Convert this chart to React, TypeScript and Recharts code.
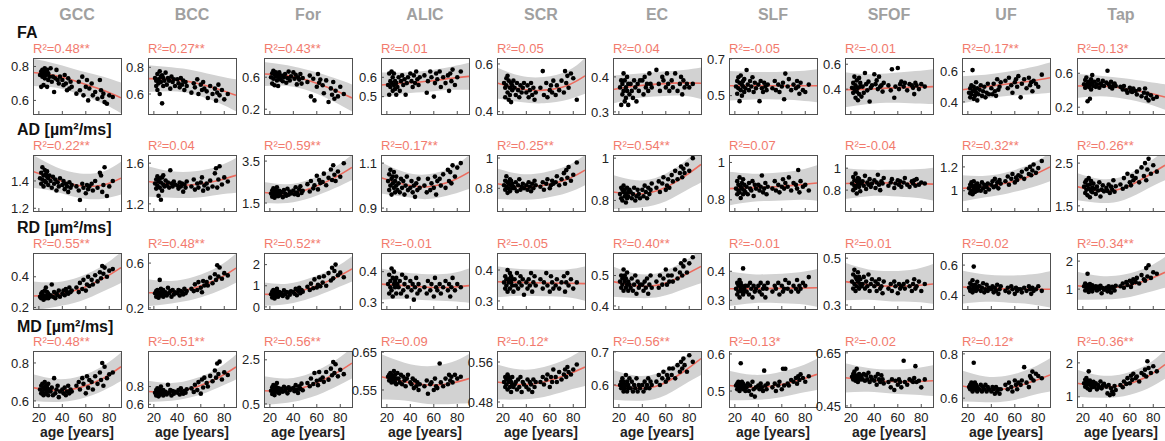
import React from 'react';
import { ComposedChart, XAxis, YAxis, Scatter, Line, Area } from 'recharts';

const TRACTS = ['GCC', 'BCC', 'For', 'ALIC', 'SCR', 'EC', 'SLF', 'SFOF', 'UF', 'Tap'];
const METRIC_LABELS = ['FA', 'AD [µm²/ms]', 'RD [µm²/ms]', 'MD [µm²/ms]'];
const AGE_TICKS = [20, 40, 60, 80];
const FIT_AGES = [15, 35, 55, 75, 90];

// subject ages (shared by all panels)
const AGES = [21, 22, 22, 23, 23, 24, 24, 25, 25, 26, 26, 27, 27, 28, 28, 29,
  30, 31, 32, 33, 34, 35, 36, 37, 38,
  40, 41, 42, 43, 44, 45, 46, 47, 48,
  52, 54, 55, 57, 58, 60, 61, 62, 63,
  65, 66, 68, 70, 72, 73, 74, 75, 76, 78, 80, 83];

// ---------- FA ----------
const FA_GCC = [0.75, 0.77, 0.68, 0.78, 0.74, 0.76, 0.69, 0.79, 0.73, 0.77, 0.75, 0.68, 0.78, 0.76, 0.72, 0.74,
  0.79, 0.71, 0.74, 0.65, 0.73, 0.78, 0.72, 0.70, 0.74,
  0.72, 0.69, 0.75, 0.70, 0.66, 0.73, 0.67, 0.71, 0.68,
  0.64, 0.71, 0.66, 0.74, 0.63, 0.68, 0.72, 0.60, 0.67,
  0.70, 0.63, 0.65, 0.61, 0.72, 0.66, 0.62, 0.64, 0.59, 0.58, 0.63, 0.62];
const FA_BCC = [0.72, 0.70, 0.66, 0.75, 0.63, 0.71, 0.68, 0.77, 0.60, 0.73, 0.69, 0.53, 0.74, 0.66, 0.72, 0.70,
  0.76, 0.67, 0.72, 0.70, 0.64, 0.73, 0.69, 0.71, 0.66,
  0.71, 0.68, 0.65, 0.72, 0.67, 0.70, 0.63, 0.69, 0.66,
  0.61, 0.68, 0.65, 0.71, 0.60, 0.67, 0.63, 0.69, 0.64,
  0.62, 0.57, 0.66, 0.60, 0.64, 0.55, 0.61, 0.67, 0.59, 0.63, 0.56, 0.60];
const FA_FOR = [0.60, 0.65, 0.52, 0.68, 0.58, 0.63, 0.50, 0.66, 0.61, 0.56, 0.64, 0.49, 0.62, 0.59, 0.66, 0.57,
  0.62, 0.55, 0.60, 0.64, 0.53, 0.59, 0.67, 0.56, 0.61,
  0.66, 0.58, 0.63, 0.51, 0.60, 0.57, 0.64, 0.52, 0.59,
  0.54, 0.62, 0.36, 0.58, 0.31, 0.48, 0.64, 0.53, 0.57,
  0.50, 0.40, 0.56, 0.29, 0.46, 0.38, 0.54, 0.33, 0.43, 0.36, 0.48, 0.39];
const FA_ALIC = [0.56, 0.62, 0.51, 0.58, 0.55, 0.63, 0.57, 0.53, 0.60, 0.56, 0.62, 0.54, 0.58, 0.51, 0.57, 0.55,
  0.60, 0.53, 0.58, 0.61, 0.56, 0.59, 0.51, 0.57, 0.60,
  0.62, 0.58, 0.55, 0.61, 0.57, 0.63, 0.59, 0.56, 0.60,
  0.61, 0.52, 0.58, 0.63, 0.60, 0.50, 0.57, 0.62, 0.59,
  0.63, 0.55, 0.60, 0.57, 0.61, 0.53, 0.62, 0.58, 0.64, 0.56, 0.60, 0.63];
const FA_SCR = [0.52, 0.50, 0.46, 0.54, 0.51, 0.48, 0.55, 0.45, 0.53, 0.50, 0.47, 0.52, 0.44, 0.51, 0.49, 0.53,
  0.50, 0.47, 0.52, 0.49, 0.46, 0.51, 0.48, 0.50, 0.52,
  0.48, 0.51, 0.46, 0.49, 0.52, 0.47, 0.50, 0.45, 0.48,
  0.50, 0.57, 0.47, 0.52, 0.46, 0.49, 0.51, 0.48, 0.53,
  0.47, 0.51, 0.49, 0.53, 0.48, 0.57, 0.52, 0.55, 0.50, 0.56, 0.54, 0.45];
const FA_EC = [0.37, 0.39, 0.32, 0.38, 0.35, 0.41, 0.36, 0.33, 0.39, 0.37, 0.34, 0.40, 0.36, 0.32, 0.38, 0.35,
  0.38, 0.36, 0.34, 0.39, 0.37, 0.33, 0.38, 0.36, 0.39,
  0.39, 0.35, 0.40, 0.37, 0.38, 0.36, 0.41, 0.38, 0.37,
  0.42, 0.38, 0.36, 0.40, 0.39, 0.37, 0.41, 0.38, 0.36,
  0.39, 0.37, 0.41, 0.36, 0.38, 0.40, 0.35, 0.39, 0.37, 0.38, 0.37, 0.38];
const FA_SLF = [0.55, 0.58, 0.51, 0.60, 0.54, 0.47, 0.57, 0.53, 0.61, 0.56, 0.50, 0.58, 0.55, 0.52, 0.59, 0.54,
  0.64, 0.56, 0.53, 0.58, 0.55, 0.60, 0.52, 0.57, 0.54,
  0.56, 0.47, 0.58, 0.54, 0.52, 0.57, 0.55, 0.53, 0.56,
  0.54, 0.58, 0.53, 0.56, 0.52, 0.55, 0.57, 0.48, 0.62,
  0.55, 0.59, 0.53, 0.56, 0.54, 0.58, 0.55, 0.51, 0.57, 0.53, 0.52, 0.56];
const FA_SFOF = [0.41, 0.45, 0.37, 0.50, 0.40, 0.33, 0.43, 0.38, 0.47, 0.31, 0.41, 0.49, 0.36, 0.42, 0.45, 0.34,
  0.42, 0.37, 0.53, 0.44, 0.39, 0.46, 0.30, 0.41, 0.43,
  0.52, 0.44, 0.47, 0.40, 0.50, 0.42, 0.43, 0.38, 0.45,
  0.43, 0.39, 0.56, 0.33, 0.42, 0.57, 0.40, 0.44, 0.46,
  0.42, 0.45, 0.39, 0.44, 0.43, 0.41, 0.36, 0.45, 0.43, 0.40, 0.44, 0.42];
const FA_UF = [0.46, 0.49, 0.43, 0.51, 0.45, 0.61, 0.47, 0.42, 0.50, 0.44, 0.48, 0.53, 0.46, 0.41, 0.49, 0.45,
  0.48, 0.51, 0.44, 0.47, 0.50, 0.43, 0.46, 0.52, 0.45,
  0.49, 0.45, 0.52, 0.47, 0.44, 0.55, 0.48, 0.50, 0.53,
  0.54, 0.49, 0.56, 0.51, 0.46, 0.53, 0.55, 0.50, 0.57,
  0.43, 0.52, 0.55, 0.49, 0.56, 0.51, 0.53, 0.47, 0.54, 0.52, 0.50, 0.58];
const FA_TAP = [0.47, 0.52, 0.43, 0.55, 0.45, 0.48, 0.27, 0.50, 0.44, 0.30, 0.46, 0.53, 0.41, 0.49, 0.58, 0.45,
  0.50, 0.44, 0.47, 0.52, 0.43, 0.48, 0.46, 0.51, 0.45,
  0.49, 0.63, 0.47, 0.44, 0.50, 0.42, 0.46, 0.48, 0.45,
  0.44, 0.41, 0.45, 0.40, 0.37, 0.43, 0.39, 0.38, 0.42,
  0.39, 0.35, 0.41, 0.33, 0.37, 0.42, 0.31, 0.36, 0.28, 0.34, 0.30, 0.32];

// ---------- AD ----------
const AD_GCC = [1.42, 1.46, 1.38, 1.50, 1.41, 1.44, 1.36, 1.48, 1.40, 1.45, 1.39, 1.43, 1.47, 1.37, 1.42, 1.44,
  1.40, 1.35, 1.43, 1.38, 1.41, 1.33, 1.39, 1.36, 1.42,
  1.37, 1.40, 1.34, 1.38, 1.36, 1.32, 1.39, 1.35, 1.37,
  1.36, 1.33, 1.26, 1.38, 1.35, 1.31, 1.37, 1.34, 1.36,
  1.38, 1.33, 1.40, 1.35, 1.46, 1.44, 1.32, 1.37, 1.50, 1.29, 1.36, 1.40];
const AD_BCC = [1.40, 1.44, 1.35, 1.47, 1.38, 1.42, 1.28, 1.45, 1.36, 1.24, 1.41, 1.46, 1.33, 1.39, 1.48, 1.37,
  1.43, 1.38, 1.41, 1.36, 1.53, 1.40, 1.37, 1.42, 1.39,
  1.38, 1.35, 1.41, 1.37, 1.40, 1.32, 1.39, 1.36, 1.42,
  1.37, 1.44, 1.34, 1.40, 1.36, 1.41, 1.46, 1.33, 1.38,
  1.40, 1.35, 1.43, 1.37, 1.50, 1.55, 1.36, 1.44, 1.57, 1.39, 1.46, 1.42];
const AD_FOR = [1.95, 2.10, 1.80, 2.20, 1.90, 2.05, 1.75, 2.15, 1.85, 1.98, 2.25, 1.82, 2.00, 1.92, 2.08, 1.88,
  2.02, 1.78, 2.12, 1.95, 1.85, 2.18, 1.90, 2.05, 1.96,
  2.10, 1.92, 2.25, 2.00, 1.88, 2.15, 2.30, 1.98, 2.08,
  2.40, 2.05, 2.55, 2.20, 2.35, 2.80, 2.15, 2.60, 2.45,
  2.50, 2.90, 2.35, 2.70, 3.10, 2.60, 3.30, 2.85, 2.55, 3.00, 2.75, 3.40];
const AD_ALIC = [1.02, 1.05, 0.98, 1.07, 1.00, 1.03, 0.96, 1.04, 1.01, 0.99, 1.06, 0.97, 1.02, 1.00, 1.04, 0.98,
  1.01, 0.97, 1.03, 0.99, 1.02, 0.96, 1.00, 1.04, 0.98,
  0.99, 1.02, 0.97, 1.00, 0.95, 1.01, 0.98, 1.03, 0.99,
  1.00, 0.97, 1.03, 0.98, 1.01, 0.99, 1.04, 0.96, 1.02,
  1.03, 1.00, 1.05, 0.99, 1.07, 1.02, 1.06, 1.01, 1.09, 1.04, 1.08, 1.10];
const AD_SCR = [0.82, 0.85, 0.79, 0.88, 0.81, 0.84, 0.77, 0.83, 0.80, 0.86, 0.78, 0.82, 0.85, 0.80, 0.83, 0.81,
  0.80, 0.84, 0.78, 0.82, 0.86, 0.79, 0.81, 0.83, 0.80,
  0.82, 0.79, 0.84, 0.81, 0.78, 0.83, 0.80, 0.85, 0.82,
  0.81, 0.84, 0.79, 0.83, 0.86, 0.80, 0.82, 0.85, 0.83,
  0.84, 0.88, 0.82, 0.86, 0.90, 0.83, 0.92, 0.87, 0.94, 0.85, 0.89, 0.97];
const AD_EC = [0.83, 0.86, 0.81, 0.85, 0.80, 0.84, 0.87, 0.82, 0.85, 0.79, 0.83, 0.86, 0.81, 0.84, 0.82, 0.85,
  0.84, 0.81, 0.83, 0.86, 0.80, 0.82, 0.85, 0.83, 0.81,
  0.85, 0.82, 0.87, 0.84, 0.81, 0.86, 0.83, 0.85, 0.88,
  0.86, 0.89, 0.84, 0.88, 0.91, 0.85, 0.87, 0.90, 0.86,
  0.92, 0.89, 0.94, 0.90, 0.93, 0.96, 0.91, 0.95, 0.93, 0.97, 0.94, 1.00];
const AD_SLF = [0.86, 0.90, 0.83, 0.88, 0.85, 0.92, 0.84, 0.87, 0.81, 0.89, 0.86, 0.83, 0.91, 0.85, 0.88, 0.84,
  0.87, 0.83, 0.89, 0.86, 0.85, 0.90, 0.82, 0.88, 0.86,
  0.88, 0.85, 0.87, 0.93, 0.84, 0.86, 0.89, 0.83, 0.87,
  0.86, 0.90, 0.85, 0.88, 0.84, 0.87, 0.91, 0.86, 0.89,
  0.87, 0.92, 0.85, 0.89, 0.88, 0.86, 0.96, 0.84, 0.90, 0.87, 0.88, 0.85];
const AD_SFOF = [0.86, 0.92, 0.80, 0.89, 0.84, 0.95, 0.82, 0.88, 0.77, 0.91, 0.85, 0.83, 0.90, 0.87, 0.79, 0.86,
  0.88, 0.84, 0.93, 0.81, 0.87, 0.85, 0.90, 0.83, 0.86,
  0.89, 0.82, 0.87, 0.94, 0.85, 0.80, 0.88, 0.86, 0.91,
  0.84, 0.87, 0.90, 0.82, 0.86, 0.89, 0.85, 0.88, 0.83,
  0.87, 0.91, 0.85, 0.83, 0.88, 0.86, 0.89, 0.84, 0.90, 0.85, 0.87, 0.86];
const AD_UF = [1.02, 1.05, 0.98, 1.07, 1.00, 1.04, 0.97, 1.03, 1.08, 1.01, 0.99, 1.05, 1.02, 1.00, 1.06, 1.03,
  1.04, 1.00, 1.07, 1.02, 1.05, 0.99, 1.03, 1.06, 1.01,
  1.05, 1.08, 1.03, 1.10, 1.04, 1.07, 1.02, 1.09, 1.06,
  1.08, 1.12, 1.05, 1.10, 1.14, 1.07, 1.11, 1.09, 1.13,
  1.12, 1.16, 1.10, 1.18, 1.14, 1.20, 1.13, 1.17, 1.22, 1.15, 1.19, 1.25];
const AD_TAP = [1.95, 2.05, 1.80, 2.10, 1.88, 1.98, 1.75, 2.15, 1.90, 1.70, 2.00, 1.85, 2.08, 1.92, 1.82, 2.02,
  1.90, 1.78, 1.95, 1.86, 2.05, 1.72, 1.88, 1.98, 1.84,
  1.92, 1.85, 2.00, 1.80, 1.95, 1.88, 2.10, 1.83, 1.96,
  2.00, 1.90, 2.15, 1.95, 2.25, 2.05, 1.98, 2.20, 2.10,
  2.15, 2.30, 2.05, 2.40, 2.20, 2.50, 2.10, 2.35, 2.60, 2.25, 2.45, 2.30];

// ---------- RD ----------
const RD_GCC = [0.27, 0.29, 0.26, 0.30, 0.27, 0.28, 0.25, 0.31, 0.27, 0.33, 0.26, 0.28, 0.30, 0.26, 0.29, 0.27,
  0.28, 0.35, 0.27, 0.30, 0.26, 0.29, 0.28, 0.31, 0.27,
  0.29, 0.31, 0.28, 0.32, 0.30, 0.29, 0.33, 0.30, 0.31,
  0.33, 0.30, 0.36, 0.32, 0.38, 0.31, 0.35, 0.40, 0.34,
  0.38, 0.35, 0.41, 0.37, 0.43, 0.39, 0.47, 0.42, 0.46, 0.40, 0.44, 0.45];
const RD_BCC = [0.33, 0.35, 0.30, 0.36, 0.32, 0.34, 0.29, 0.45, 0.33, 0.31, 0.37, 0.32, 0.34, 0.30, 0.36, 0.33,
  0.34, 0.31, 0.38, 0.33, 0.35, 0.30, 0.36, 0.32, 0.34,
  0.33, 0.36, 0.31, 0.35, 0.34, 0.32, 0.37, 0.33, 0.35,
  0.37, 0.35, 0.41, 0.36, 0.43, 0.38, 0.34, 0.44, 0.40,
  0.43, 0.40, 0.47, 0.42, 0.50, 0.45, 0.58, 0.48, 0.56, 0.46, 0.51, 0.49];
const RD_FOR = [0.60, 0.72, 0.45, 0.80, 0.55, 0.68, 0.40, 0.75, 0.58, 0.50, 0.85, 0.62, 0.48, 0.70, 0.56, 0.66,
  0.64, 0.52, 0.78, 0.60, 0.70, 0.45, 0.68, 0.58, 0.74,
  0.70, 0.62, 0.85, 0.55, 0.76, 0.90, 0.65, 0.80, 0.72,
  0.95, 0.80, 1.10, 0.88, 1.30, 0.92, 1.05, 1.40, 0.98,
  1.15, 1.45, 1.00, 1.60, 1.25, 1.85, 1.35, 1.70, 2.00, 1.50, 1.62, 1.40];
const RD_ALIC = [0.36, 0.39, 0.33, 0.37, 0.35, 0.41, 0.34, 0.38, 0.32, 0.36, 0.40, 0.35, 0.37, 0.33, 0.38, 0.36,
  0.35, 0.37, 0.33, 0.39, 0.34, 0.36, 0.38, 0.32, 0.35,
  0.37, 0.34, 0.36, 0.31, 0.35, 0.38, 0.33, 0.36, 0.34,
  0.35, 0.33, 0.37, 0.34, 0.36, 0.32, 0.38, 0.35, 0.34,
  0.36, 0.33, 0.35, 0.37, 0.34, 0.36, 0.32, 0.35, 0.38, 0.34, 0.36, 0.35];
const RD_SCR = [0.36, 0.38, 0.34, 0.37, 0.35, 0.40, 0.33, 0.37, 0.36, 0.39, 0.34, 0.36, 0.38, 0.35, 0.37, 0.33,
  0.37, 0.35, 0.39, 0.34, 0.36, 0.38, 0.35, 0.37, 0.32,
  0.36, 0.34, 0.37, 0.35, 0.39, 0.33, 0.36, 0.38, 0.35,
  0.37, 0.34, 0.36, 0.39, 0.35, 0.33, 0.38, 0.36, 0.34,
  0.35, 0.37, 0.34, 0.36, 0.38, 0.33, 0.36, 0.39, 0.35, 0.37, 0.34, 0.36];
const RD_EC = [0.48, 0.50, 0.46, 0.49, 0.47, 0.52, 0.45, 0.48, 0.50, 0.46, 0.49, 0.47, 0.51, 0.45, 0.48, 0.47,
  0.46, 0.49, 0.45, 0.47, 0.50, 0.44, 0.48, 0.46, 0.47,
  0.47, 0.45, 0.48, 0.46, 0.49, 0.44, 0.47, 0.50, 0.46,
  0.48, 0.46, 0.50, 0.47, 0.49, 0.52, 0.47, 0.50, 0.48,
  0.50, 0.48, 0.52, 0.49, 0.51, 0.54, 0.50, 0.53, 0.55, 0.51, 0.54, 0.56];
const RD_SLF = [0.34, 0.36, 0.32, 0.35, 0.33, 0.37, 0.31, 0.34, 0.36, 0.33, 0.35, 0.32, 0.41, 0.34, 0.33, 0.35,
  0.33, 0.35, 0.32, 0.36, 0.34, 0.31, 0.35, 0.33, 0.34,
  0.35, 0.33, 0.36, 0.32, 0.34, 0.35, 0.31, 0.34, 0.36,
  0.33, 0.35, 0.34, 0.36, 0.32, 0.35, 0.33, 0.34, 0.37,
  0.34, 0.36, 0.33, 0.35, 0.34, 0.37, 0.33, 0.35, 0.34, 0.36, 0.35, 0.38];
const RD_SFOF = [0.40, 0.43, 0.37, 0.45, 0.39, 0.42, 0.36, 0.41, 0.38, 0.44, 0.40, 0.37, 0.42, 0.39, 0.41, 0.38,
  0.39, 0.42, 0.37, 0.40, 0.38, 0.43, 0.36, 0.39, 0.41,
  0.38, 0.40, 0.36, 0.39, 0.41, 0.37, 0.38, 0.35, 0.40,
  0.37, 0.39, 0.36, 0.40, 0.38, 0.35, 0.39, 0.37, 0.38,
  0.39, 0.37, 0.40, 0.38, 0.36, 0.39, 0.41, 0.37, 0.38, 0.40, 0.36, 0.39];
const RD_UF = [0.45, 0.48, 0.43, 0.47, 0.44, 0.50, 0.42, 0.46, 0.59, 0.44, 0.47, 0.43, 0.45, 0.49, 0.44, 0.46,
  0.46, 0.43, 0.45, 0.48, 0.42, 0.44, 0.47, 0.43, 0.45,
  0.44, 0.46, 0.42, 0.45, 0.43, 0.47, 0.41, 0.44, 0.46,
  0.43, 0.45, 0.42, 0.46, 0.44, 0.41, 0.45, 0.43, 0.44,
  0.44, 0.42, 0.45, 0.43, 0.46, 0.44, 0.41, 0.45, 0.43, 0.44, 0.46, 0.43];
const RD_TAP = [1.10, 1.20, 0.95, 1.15, 1.05, 1.55, 1.00, 1.12, 0.90, 1.08, 1.18, 0.98, 1.05, 1.14, 0.92, 1.06,
  1.02, 1.10, 0.95, 1.08, 1.00, 1.12, 0.85, 1.04, 0.98,
  1.05, 0.92, 1.10, 1.00, 0.88, 1.08, 1.02, 0.95, 1.12,
  1.10, 1.20, 1.05, 1.25, 1.15, 1.30, 1.08, 1.22, 1.35,
  1.25, 1.40, 1.20, 1.50, 1.35, 1.30, 1.75, 1.45, 1.85, 1.40, 1.60, 1.55];

// ---------- MD ----------
const MD_GCC = [0.66, 0.68, 0.64, 0.69, 0.65, 0.67, 0.63, 0.70, 0.66, 0.64, 0.68, 0.65, 0.67, 0.63, 0.69, 0.66,
  0.65, 0.67, 0.63, 0.72, 0.64, 0.66, 0.68, 0.62, 0.65,
  0.66, 0.64, 0.67, 0.63, 0.65, 0.68, 0.64, 0.66, 0.65,
  0.68, 0.70, 0.66, 0.72, 0.69, 0.64, 0.73, 0.67, 0.71,
  0.70, 0.66, 0.73, 0.69, 0.75, 0.71, 0.80, 0.68, 0.78, 0.72, 0.74, 0.75];
const MD_BCC = [0.73, 0.76, 0.70, 0.78, 0.72, 0.75, 0.69, 0.77, 0.71, 0.74, 0.80, 0.72, 0.75, 0.70, 0.76, 0.73,
  0.74, 0.71, 0.82, 0.73, 0.76, 0.70, 0.75, 0.72, 0.74,
  0.73, 0.76, 0.71, 0.78, 0.74, 0.72, 0.75, 0.73, 0.77,
  0.78, 0.74, 0.82, 0.76, 0.85, 0.72, 0.88, 0.79, 0.90,
  0.84, 0.80, 0.92, 0.86, 0.98, 0.90, 1.06, 0.94, 1.08, 0.88, 0.96, 0.93];
const MD_FOR = [1.10, 1.25, 0.95, 1.35, 1.05, 1.20, 0.90, 1.30, 1.08, 1.15, 1.45, 1.02, 1.22, 1.12, 0.98, 1.18,
  1.15, 1.05, 1.28, 1.10, 1.20, 0.98, 1.25, 1.12, 1.18,
  1.22, 1.08, 1.35, 1.15, 1.00, 1.30, 1.18, 1.42, 1.12,
  1.45, 1.30, 1.65, 1.40, 1.90, 1.55, 1.35, 1.95, 1.60,
  1.70, 1.50, 1.95, 1.60, 2.10, 1.80, 2.40, 1.90, 2.30, 1.75, 2.05, 1.85];
const MD_ALIC = [0.585, 0.59, 0.575, 0.595, 0.58, 0.57, 0.59, 0.585, 0.575, 0.6, 0.58, 0.57, 0.59, 0.58, 0.565, 0.595,
  0.58, 0.57, 0.59, 0.565, 0.585, 0.575, 0.56, 0.58, 0.59,
  0.57, 0.565, 0.58, 0.555, 0.575, 0.56, 0.57, 0.55, 0.565,
  0.56, 0.575, 0.54, 0.565, 0.57, 0.55, 0.58, 0.56, 0.555,
  0.62, 0.57, 0.56, 0.58, 0.565, 0.59, 0.575, 0.585, 0.57, 0.59, 0.58, 0.585];
const MD_SCR = [0.52, 0.53, 0.51, 0.525, 0.515, 0.535, 0.505, 0.52, 0.53, 0.51, 0.525, 0.50, 0.52, 0.515, 0.53, 0.51,
  0.515, 0.52, 0.505, 0.525, 0.51, 0.53, 0.50, 0.52, 0.515,
  0.51, 0.525, 0.505, 0.52, 0.515, 0.50, 0.525, 0.51, 0.52,
  0.52, 0.53, 0.515, 0.525, 0.535, 0.51, 0.53, 0.52, 0.545,
  0.53, 0.52, 0.54, 0.525, 0.535, 0.545, 0.53, 0.55, 0.54, 0.535, 0.545, 0.555];
const MD_EC = [0.60, 0.61, 0.59, 0.62, 0.60, 0.58, 0.61, 0.60, 0.59, 0.63, 0.60, 0.58, 0.61, 0.59, 0.60, 0.62,
  0.59, 0.61, 0.58, 0.60, 0.59, 0.62, 0.58, 0.60, 0.59,
  0.60, 0.58, 0.61, 0.59, 0.60, 0.62, 0.59, 0.61, 0.60,
  0.61, 0.63, 0.60, 0.62, 0.64, 0.61, 0.63, 0.62, 0.65,
  0.63, 0.65, 0.62, 0.66, 0.64, 0.67, 0.65, 0.68, 0.66, 0.64, 0.69, 0.67];
const MD_SLF = [0.515, 0.52, 0.505, 0.525, 0.51, 0.50, 0.52, 0.575, 0.51, 0.515, 0.525, 0.505, 0.52, 0.51, 0.515, 0.50,
  0.51, 0.52, 0.50, 0.515, 0.49, 0.525, 0.505, 0.485, 0.51,
  0.515, 0.505, 0.52, 0.51, 0.50, 0.555, 0.515, 0.505, 0.52,
  0.51, 0.52, 0.50, 0.515, 0.525, 0.505, 0.56, 0.515, 0.56,
  0.52, 0.515, 0.53, 0.525, 0.535, 0.52, 0.54, 0.53, 0.545, 0.535, 0.525, 0.54];
const MD_SFOF = [0.56, 0.57, 0.55, 0.58, 0.555, 0.545, 0.565, 0.55, 0.59, 0.56, 0.54, 0.57, 0.555, 0.565, 0.55, 0.56,
  0.55, 0.57, 0.545, 0.565, 0.55, 0.575, 0.54, 0.56, 0.55,
  0.545, 0.56, 0.53, 0.57, 0.55, 0.54, 0.565, 0.55, 0.535,
  0.54, 0.52, 0.55, 0.51, 0.545, 0.53, 0.55, 0.54, 0.52,
  0.62, 0.54, 0.53, 0.55, 0.545, 0.54, 0.555, 0.60, 0.54, 0.545, 0.52, 0.55];
const MD_UF = [0.65, 0.66, 0.64, 0.67, 0.65, 0.63, 0.66, 0.64, 0.76, 0.65, 0.67, 0.64, 0.66, 0.63, 0.65, 0.64,
  0.64, 0.66, 0.63, 0.65, 0.64, 0.66, 0.63, 0.65, 0.64,
  0.63, 0.65, 0.64, 0.62, 0.65, 0.63, 0.64, 0.62, 0.64,
  0.66, 0.64, 0.67, 0.65, 0.63, 0.68, 0.66, 0.64, 0.67,
  0.66, 0.68, 0.74, 0.67, 0.65, 0.70, 0.69, 0.72, 0.68, 0.71, 0.70, 0.69];
const MD_TAP = [1.40, 1.50, 1.30, 1.55, 1.35, 1.45, 1.25, 1.75, 1.38, 1.20, 1.48, 1.32, 1.42, 1.28, 1.36, 1.44,
  1.30, 1.40, 1.22, 1.35, 1.28, 1.45, 1.25, 1.33, 1.38,
  1.30, 1.10, 1.35, 1.05, 1.25, 1.15, 1.08, 1.32, 1.20,
  1.35, 1.28, 1.45, 1.38, 1.55, 1.40, 1.62, 1.50, 1.68,
  1.55, 1.60, 1.45, 1.70, 1.65, 1.80, 1.60, 2.05, 1.85, 1.70, 1.90, 1.75];

// ---------- fitted curve (at FIT_AGES) and half-width of the grey band ----------
const FA_FIT = [[0.765, 0.745, 0.705, 0.66, 0.615], [0.715, 0.71, 0.685, 0.635, 0.59], [0.64, 0.62, 0.55, 0.44, 0.34],
  [0.56, 0.57, 0.58, 0.595, 0.605], [0.52, 0.495, 0.49, 0.51, 0.55], [0.364, 0.374, 0.38, 0.383, 0.382],
  [0.554, 0.554, 0.554, 0.554, 0.554], [0.395, 0.40, 0.41, 0.415, 0.42], [0.48, 0.50, 0.52, 0.54, 0.56],
  [0.45, 0.45, 0.42, 0.37, 0.32]];
const FA_HW = [[0.08, 0.07, 0.07, 0.08, 0.09], [0.10, 0.09, 0.09, 0.10, 0.12], [0.15, 0.13, 0.13, 0.15, 0.17],
  [0.065, 0.055, 0.055, 0.06, 0.07], [0.065, 0.055, 0.055, 0.06, 0.075], [0.04, 0.035, 0.035, 0.037, 0.045],
  [0.08, 0.075, 0.075, 0.08, 0.09], [0.14, 0.12, 0.12, 0.13, 0.14], [0.09, 0.08, 0.08, 0.09, 0.10],
  [0.14, 0.12, 0.12, 0.13, 0.15]];
const AD_FIT = [[1.47, 1.41, 1.365, 1.37, 1.42], [1.42, 1.39, 1.39, 1.43, 1.48], [2.0, 1.95, 2.2, 2.7, 3.2],
  [1.035, 1.005, 0.995, 1.02, 1.06], [0.83, 0.81, 0.82, 0.86, 0.92], [0.84, 0.83, 0.85, 0.91, 0.97],
  [0.86, 0.865, 0.87, 0.88, 0.89], [0.86, 0.865, 0.865, 0.86, 0.855], [1.02, 1.035, 1.07, 1.13, 1.2],
  [1.95, 1.85, 1.92, 2.2, 2.45]];
const AD_HW = [[0.12, 0.09, 0.09, 0.1, 0.12], [0.15, 0.13, 0.13, 0.14, 0.17], [0.5, 0.45, 0.45, 0.5, 0.6],
  [0.07, 0.055, 0.055, 0.06, 0.075], [0.1, 0.085, 0.085, 0.09, 0.1], [0.08, 0.065, 0.065, 0.07, 0.085],
  [0.09, 0.075, 0.075, 0.08, 0.095], [0.14, 0.12, 0.12, 0.13, 0.15], [0.11, 0.09, 0.09, 0.1, 0.12],
  [0.32, 0.28, 0.28, 0.3, 0.35]];
const RD_FIT = [[0.275, 0.285, 0.32, 0.39, 0.46], [0.335, 0.34, 0.38, 0.46, 0.555], [0.6, 0.62, 0.9, 1.35, 1.8],
  [0.36, 0.355, 0.35, 0.35, 0.355], [0.362, 0.36, 0.358, 0.357, 0.356], [0.48, 0.466, 0.47, 0.5, 0.53],
  [0.34, 0.34, 0.341, 0.342, 0.343], [0.40, 0.387, 0.38, 0.383, 0.39], [0.455, 0.448, 0.442, 0.44, 0.44],
  [1.12, 1.05, 1.1, 1.33, 1.6]];
const RD_HW = [[0.095, 0.08, 0.08, 0.085, 0.1], [0.12, 0.1, 0.1, 0.11, 0.13], [0.55, 0.48, 0.48, 0.5, 0.6],
  [0.05, 0.042, 0.042, 0.045, 0.055], [0.05, 0.043, 0.043, 0.045, 0.055], [0.05, 0.04, 0.04, 0.045, 0.055],
  [0.06, 0.05, 0.05, 0.055, 0.065], [0.08, 0.065, 0.065, 0.07, 0.085], [0.11, 0.09, 0.09, 0.1, 0.12],
  [0.5, 0.42, 0.42, 0.45, 0.55]];
const MD_FIT = [[0.67, 0.655, 0.67, 0.72, 0.78], [0.745, 0.74, 0.79, 0.9, 1.02], [1.1, 1.1, 1.35, 1.85, 2.35],
  [0.585, 0.572, 0.563, 0.568, 0.58], [0.52, 0.515, 0.52, 0.535, 0.55], [0.60, 0.59, 0.60, 0.64, 0.68],
  [0.515, 0.51, 0.515, 0.53, 0.545], [0.556, 0.548, 0.542, 0.542, 0.545], [0.655, 0.64, 0.645, 0.675, 0.705],
  [1.4, 1.3, 1.35, 1.6, 1.95]];
const MD_HW = [[0.07, 0.06, 0.06, 0.065, 0.075], [0.12, 0.1, 0.1, 0.11, 0.14], [0.65, 0.55, 0.55, 0.6, 0.7],
  [0.06, 0.05, 0.05, 0.055, 0.065], [0.035, 0.03, 0.03, 0.032, 0.038], [0.045, 0.038, 0.038, 0.04, 0.05],
  [0.04, 0.034, 0.034, 0.036, 0.042], [0.055, 0.045, 0.045, 0.05, 0.058], [0.07, 0.058, 0.058, 0.062, 0.075],
  [0.4, 0.33, 0.33, 0.36, 0.42]];

// ---------- axes ----------
const FA_DOM = [[0.52, 0.85], [0.45, 0.87], [0.14, 0.84], [0.41, 0.70], [0.39, 0.625], [0.294, 0.454], [0.40, 0.705], [0.2, 0.65], [0.32, 0.69], [0.12, 0.78]];
const FA_TICKS = [[0.6, 0.8], [0.6, 0.8], [0.2, 0.6], [0.5, 0.6], [0.4, 0.6], [0.3, 0.4], [0.5, 0.7], [0.4, 0.6], [0.4, 0.6], [0.2, 0.6]];
const AD_DOM = [[1.18, 1.59], [1.13, 1.68], [1.12, 3.79], [0.887, 1.136], [0.65, 1.02], [0.75, 1.015], [0.74, 1.04], [0.61, 1.12], [0.83, 1.3], [1.38, 2.69]];
const AD_TICKS = [[1.2, 1.4], [1.2, 1.6], [1.5, 3.5], [0.9, 1.1], [0.8, 1], [0.8, 1], [0.8, 1], [0.8, 1], [1, 1.2], [1.5, 2.5]];
const RD_DOM = [[0.19, 0.555], [0.19, 0.69], [-0.1, 2.55], [0.28, 0.46], [0.274, 0.455], [0.39, 0.574], [0.27, 0.463], [0.283, 0.522], [0.31, 0.68], [0.29, 2.29]];
const RD_TICKS = [[0.2, 0.4], [0.2, 0.6], [0, 1, 2], [0.3, 0.4], [0.3, 0.4], [0.4, 0.5], [0.3, 0.4], [0.3, 0.5], [0.4, 0.6], [1, 2]];
const MD_DOM = [[0.568, 0.863], [0.57, 1.2], [0.36, 2.9], [0.505, 0.653], [0.47, 0.582], [0.533, 0.703], [0.457, 0.608], [0.446, 0.657], [0.56, 0.813], [0.7, 2.35]];
const MD_TICKS = [[0.6, 0.8], [0.6, 0.8], [0.5, 2.5], [0.55, 0.65], [0.48, 0.56], [0.6, 0.7], [0.5, 0.6], [0.45, 0.65], [0.6, 0.8], [1, 2]];

const FA_R2 = ['0.48**', '0.27**', '0.43**', '0.01', '0.05', '0.04', '-0.05', '-0.01', '0.17**', '0.13*'];
const AD_R2 = ['0.22**', '0.04', '0.59**', '0.17**', '0.25**', '0.54**', '0.07', '-0.04', '0.32**', '0.26**'];
const RD_R2 = ['0.55**', '0.48**', '0.52**', '-0.01', '-0.05', '0.40**', '-0.01', '0.01', '0.02', '0.34**'];
const MD_R2 = ['0.48**', '0.51**', '0.56**', '0.09', '0.12*', '0.56**', '0.13*', '-0.02', '0.12*', '0.36**'];

const ROWS = [
  { vals: [FA_GCC, FA_BCC, FA_FOR, FA_ALIC, FA_SCR, FA_EC, FA_SLF, FA_SFOF, FA_UF, FA_TAP], fit: FA_FIT, hw: FA_HW, dom: FA_DOM, ticks: FA_TICKS, r2: FA_R2 },
  { vals: [AD_GCC, AD_BCC, AD_FOR, AD_ALIC, AD_SCR, AD_EC, AD_SLF, AD_SFOF, AD_UF, AD_TAP], fit: AD_FIT, hw: AD_HW, dom: AD_DOM, ticks: AD_TICKS, r2: AD_R2 },
  { vals: [RD_GCC, RD_BCC, RD_FOR, RD_ALIC, RD_SCR, RD_EC, RD_SLF, RD_SFOF, RD_UF, RD_TAP], fit: RD_FIT, hw: RD_HW, dom: RD_DOM, ticks: RD_TICKS, r2: RD_R2 },
  { vals: [MD_GCC, MD_BCC, MD_FOR, MD_ALIC, MD_SCR, MD_EC, MD_SLF, MD_SFOF, MD_UF, MD_TAP], fit: MD_FIT, hw: MD_HW, dom: MD_DOM, ticks: MD_TICKS, r2: MD_R2 },
];

// ---------- layout / style ----------
const FONT = '"Liberation Sans", Arial, Helvetica, sans-serif';
const FRAME_LEFT = [33, 148, 264, 381, 497, 613, 729, 845, 962, 1077];
const FRAME_TOP = [58, 155, 253, 351];
const LABEL_Y = [33, 130, 228, 327];
const PW = 88;
const PH = 56;
const YW = 31;
const MT = 9;
const RED = '#ec6a5d';
const R2_COLOR = '#f27a6d';
const BAND = '#d2d2d2';
const FRAME = '#505050';
const HEAD = '#a0a0a0';

const dotShape = (p: any) => <circle cx={p.cx} cy={p.cy} r={2.3} fill="#000" />;

function Panel({ r, c }: { r: number; c: number }) {
  const row = ROWS[r];
  const fit = row.fit[c];
  const hw = row.hw[c];
  const fitData = FIT_AGES.map((a, i) => ({ age: a, fit: fit[i], band: [fit[i] - hw[i], fit[i] + hw[i]] }));
  const pts = AGES.map((a, i) => ({ age: a, v: row.vals[c][i] }));
  const bottom = r === 3;
  const yTick = (p: any) => (
    <g>
      <line x1={YW} x2={YW + 3} y1={p.y} y2={p.y} stroke={FRAME} strokeWidth={1} />
      <text x={YW - 4} y={p.y} dy="0.36em" textAnchor="end" fontSize={13} fill="#222" fontFamily={FONT}>
        {String(p.payload.value)}
      </text>
    </g>
  );
  const xTick = (p: any) => (
    <g>
      <line x1={p.x} x2={p.x} y1={MT + PH} y2={MT + PH - 3} stroke={FRAME} strokeWidth={1} />
      {bottom && (
        <text x={p.x} y={MT + PH + 10} dy="0.36em" textAnchor="middle" fontSize={13} fill="#222" fontFamily={FONT}>
          {String(p.payload.value)}
        </text>
      )}
    </g>
  );
  return (
    <div style={{ position: 'absolute', left: FRAME_LEFT[c] - YW, top: FRAME_TOP[r] - MT }}>
      <ComposedChart width={YW + PW + 1} height={MT + PH + 22} data={fitData} margin={{ top: MT, right: 1, bottom: 0, left: 0 }}>
        <XAxis dataKey="age" type="number" domain={[15, 90]} ticks={AGE_TICKS} allowDataOverflow axisLine={false} tickLine={false} tick={xTick} height={22} interval={0} />
        <YAxis type="number" domain={row.dom[c]} ticks={row.ticks[c]} allowDataOverflow axisLine={false} tickLine={false} tick={yTick} width={YW} interval={0} />
        <Area dataKey="band" type="natural" fill={BAND} fillOpacity={1} stroke="none" isAnimationActive={false} />
        <Line dataKey="fit" type="natural" stroke={RED} strokeWidth={1.6} dot={false} isAnimationActive={false} />
        <Scatter data={pts} dataKey="v" shape={dotShape} isAnimationActive={false} />
      </ComposedChart>
      <div style={{ position: 'absolute', left: YW, top: MT, width: PW + 1, height: PH + 1, border: `1px solid ${FRAME}`, boxSizing: 'border-box' }} />
      <div style={{ position: 'absolute', left: YW, top: MT - 17, height: 16, lineHeight: '16px', fontSize: 13, color: R2_COLOR, fontFamily: FONT, whiteSpace: 'nowrap' }}>
        {'R²=' + row.r2[c]}
      </div>
    </div>
  );
}

export default function App() {
  return (
    <div style={{ position: 'absolute', left: 0, top: 0, width: 1165, height: 441, background: '#fff', fontFamily: FONT, overflow: 'hidden' }}>
      {TRACTS.map((t, c) => (
        <div key={t} style={{ position: 'absolute', left: FRAME_LEFT[c] + PW / 2 - 50, width: 100, top: 5, height: 20, lineHeight: '20px', textAlign: 'center', fontSize: 16, fontWeight: 'bold', color: HEAD }}>
          {t}
        </div>
      ))}
      {METRIC_LABELS.map((m, r) => (
        <div key={m} style={{ position: 'absolute', left: 17, top: LABEL_Y[r] - 10, height: 20, lineHeight: '20px', fontSize: 16, fontWeight: 'bold', color: '#111', whiteSpace: 'nowrap' }}>
          {m}
        </div>
      ))}
      {ROWS.map((_, r) => TRACTS.map((t, c) => <Panel key={t + r} r={r} c={c} />))}
      {TRACTS.map((t, c) => (
        <div key={'age' + t} style={{ position: 'absolute', left: FRAME_LEFT[c] + PW / 2 - 50, width: 100, top: 423, height: 18, lineHeight: '18px', textAlign: 'center', fontSize: 14, fontWeight: 'bold', color: '#222' }}>
          age [years]
        </div>
      ))}
    </div>
  );
}
